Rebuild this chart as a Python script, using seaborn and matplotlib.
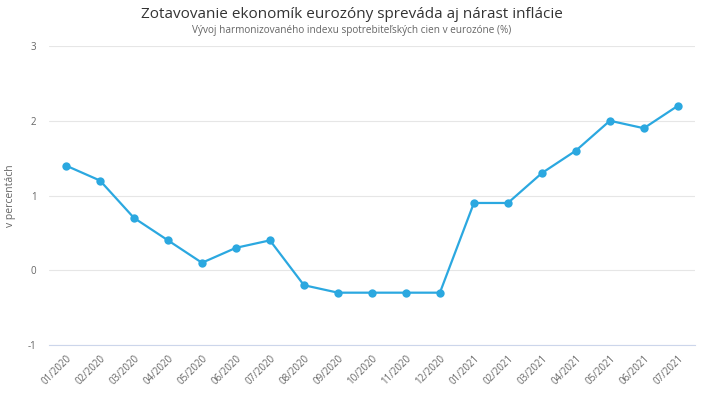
import matplotlib
matplotlib.use("Agg")
import matplotlib.pyplot as plt
import seaborn as sns
import pandas as pd

months = ["01/2020", "02/2020", "03/2020", "04/2020", "05/2020", "06/2020", "07/2020",
          "08/2020", "09/2020", "10/2020", "11/2020", "12/2020", "01/2021", "02/2021",
          "03/2021", "04/2021", "05/2021", "06/2021", "07/2021"]
values = [1.4, 1.2, 0.7, 0.4, 0.1, 0.3, 0.4, -0.2, -0.3, -0.3, -0.3, -0.3,
          0.9, 0.9, 1.3, 1.6, 2.0, 1.9, 2.2]
yticks = [-1, 0, 1, 2, 3]

sns.set_theme(style="white")
plt.rcParams['font.family'] = ['Open Sans', 'DejaVu Sans']

df = pd.DataFrame({"mesiac": months, "hodnota": values})
df["idx"] = range(len(df))

fig = plt.figure(figsize=(7.04, 4.0), dpi=100)
ax = fig.add_axes([0.0696, 0.1375, 0.9174, 0.7475])

color = "#2ba8e0"
sns.lineplot(data=df, x="idx", y="hodnota", ax=ax, color=color, linewidth=1.6,
             marker="o", markersize=6, markeredgewidth=0, zorder=3)

ax.set_xlim(-0.5, len(months) - 0.5)
ax.set_ylim(-1, 3)
ax.set_yticks(yticks)
ax.set_yticklabels([str(t) for t in yticks])
ax.set_xticks(range(len(months)))
ax.set_xticklabels(months, rotation=45, ha="right", rotation_mode="anchor")
ax.tick_params(axis="both", length=0, labelsize=7, colors="#666666")
ax.tick_params(axis="y", pad=9)
ax.tick_params(axis="x", pad=6)

ax.grid(axis="y", color="#e6e6e6", linewidth=0.8)
ax.grid(axis="x", visible=False)
for s in ["top", "right", "left"]:
    ax.spines[s].set_visible(False)
ax.spines["bottom"].set_color("#ccd6eb")
ax.spines["bottom"].set_linewidth(0.8)
ax.spines["bottom"].set_zorder(1)

ax.set_xlabel("")
ax.set_ylabel("v percentách", fontsize=7.5, color="#666666")
ax.yaxis.set_label_coords(-0.051, 0.5)

fig.text(0.5, 0.963, "Zotavovanie ekonomík eurozóny spreváda aj nárast inflácie",
         ha="center", va="center", fontsize=11, color="#333333")
fig.text(0.5, 0.924, "Vývoj harmonizovaného indexu spotrebiteľských cien v eurozóne (%)",
         ha="center", va="center", fontsize=7.2, color="#666666")

fig.savefig("out.png", dpi=100)
